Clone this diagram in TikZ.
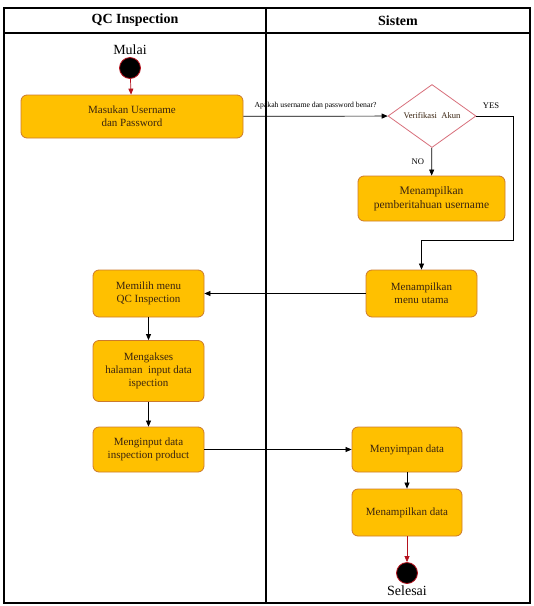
\documentclass[tikz,border=0pt]{standalone}
\usepackage{fontspec}
\setmainfont{Liberation Serif}
\usetikzlibrary{shapes.geometric}
\usetikzlibrary{arrows.meta}
\usetikzlibrary{calc}
\definecolor{actfill}{HTML}{FFC000}
\definecolor{actline}{HTML}{CC7A2C}
\definecolor{acttext}{HTML}{3A2410}
\definecolor{dmdline}{HTML}{D8707C}
\definecolor{flowred}{HTML}{B4121E}
\newcommand{\swlxa}{4}
\newcommand{\swlxb}{266}
\newcommand{\swlxc}{530}
\newcommand{\swlya}{8}
\newcommand{\swlyb}{33}
\newcommand{\swlyc}{603}
\newcommand{\colqc}{148.5}
\newcommand{\colsys}{407}
\tikzset{
  actbox/.style={rectangle, rounded corners=6pt, draw=actline, fill=actfill,
    line width=0.8pt, align=center, inner sep=2pt, text=acttext,
    font=\fontsize{11}{13}\selectfont},
  decbox/.style={diamond, draw=dmdline, fill=white, line width=0.8pt,
    inner sep=0pt, minimum width=88, minimum height=52, text=acttext,
    font=\fontsize{8.6}{10}\selectfont},
  endpt/.style={circle, fill=black, draw=flowred, line width=0.8pt,
    minimum size=21, inner sep=0pt},
  flow/.style={-{Triangle[length=6pt,width=5pt]}, line width=0.7pt},
  redflow/.style={flow, draw=flowred, -{Triangle[length=6pt,width=5pt]}},
  lanehead/.style={font=\fontsize{14}{16}\selectfont\bfseries},
  termlabel/.style={font=\fontsize{14}{16}\selectfont, inner sep=1pt}
}
\begin{document}
\begin{tikzpicture}[x=1pt,y=-1pt]
    \useasboundingbox (0,0) rectangle (534,606);
    \draw[line width=1.3pt] (\swlxa,\swlya) rectangle (\swlxc,\swlyc);
    \draw[line width=1.3pt] (\swlxa,\swlyb) -- (\swlxc,\swlyb);
    \draw[line width=1.3pt] (\swlxb,\swlya) -- (\swlxb,\swlyc);
    \node[lanehead] (qchead) at ($0.5*(\swlxa,\swlya) + 0.5*(\swlxb,\swlyb)$) {QC Inspection};
    \node[lanehead] (syshead) at ($0.5*(\swlxb,\swlya) + 0.5*(\swlxc,\swlyb)$) {Sistem};

    \node[endpt] (start) at (130,68) {};
    \node[termlabel, above=1pt] (mulai) at (start.north) {Mulai};
    \node[actbox, minimum width=222, minimum height=43] (login) at (132,116.5)
      {Masukan Username\\dan Password};
    \node[decbox] (verify) at (432,116) {Verifikasi~ Akun};
    \node[actbox, minimum width=147, minimum height=45,
      font=\fontsize{11.5}{13.5}\selectfont] (notice) at (431.5,198.5)
      {Menampilkan\\pemberitahuan username};
    \node[actbox, minimum width=111, minimum height=47] (menu) at (421.5,293.5)
      {Menampilkan\\menu utama};
    \node[actbox, minimum width=111, minimum height=47] (choose) at (\colqc,293.5)
      {Memilih menu\\QC Inspection};
    \node[actbox, minimum width=111, minimum height=61] (access) at (\colqc,371)
      {Mengakses\\halaman~ input data\\ispection};
    \node[actbox, minimum width=111, minimum height=45] (input) at (\colqc,449.5)
      {Menginput data\\inspection product};
    \node[actbox, minimum width=110, minimum height=45] (save) at (\colsys,449.5)
      {Menyimpan data};
    \node[actbox, minimum width=110, minimum height=47] (show) at (\colsys,512.5)
      {Menampilkan data};
    \node[endpt] (finish) at (\colsys,573) {};
    \node[termlabel, below=1pt] (selesai) at (finish.south) {Selesai};

    \coordinate (yesturn) at (513,240);
    \draw[redflow] (start) -- (login);
    \draw[flow] (login) -- node[above=3pt, font=\fontsize{7.7}{9}\selectfont]
      {Apakah username dan password benar?} (verify);
    \draw[flow] (verify) -- node[left=4pt, font=\fontsize{8.6}{10}\selectfont] {NO} (notice);
    \draw[flow] (verify.east) -| (yesturn) -| (menu.north);
    \node[font=\fontsize{8.6}{10}\selectfont] (yes) at (491,106) {YES};
    \draw[flow] (menu) -- (choose);
    \draw[flow] (choose) -- (access);
    \draw[flow] (access) -- (input);
    \draw[flow] (input) -- (save);
    \draw[flow] (save) -- (show);
    \draw[redflow] (show) -- (finish);
  \end{tikzpicture}
\end{document}
